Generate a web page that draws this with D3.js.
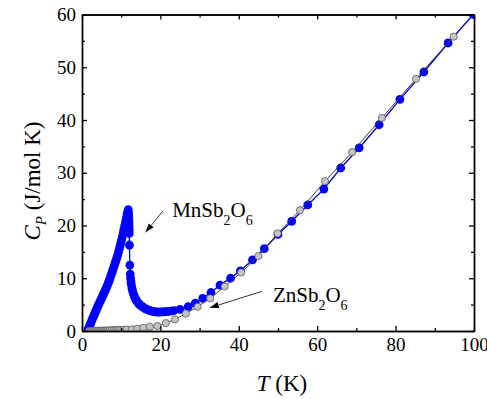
<!DOCTYPE html>
<html>
<head>
<meta charset="utf-8">
<script src="https://cdn.jsdelivr.net/npm/d3@7"></script>
<style>
body { margin: 0; background: #fff; }
svg text { font-family: "Liberation Serif", "Times New Roman", serif !important; fill: #000; }
</style>
</head>
<body>
<div id="main"></div>
<script>
// MnSb2O6 heat capacity (blue)
const mnT = [1.5, 1.7, 1.9, 2.1, 2.3, 2.5, 2.7, 2.9, 3.1, 3.3, 3.5, 3.7, 3.9, 4.1, 4.3, 4.5, 4.7, 4.9, 5.1, 5.3,
    5.5, 5.7, 5.9, 6.1, 6.3, 6.5, 6.7, 6.9, 7.1, 7.3, 7.5, 7.7, 7.9, 8.1, 8.3, 8.5, 8.7, 8.9, 9.1, 9.3,
    9.5, 9.7, 9.9, 10.1, 10.3, 10.5, 10.7, 10.9, 11.1, 11.3, 11.5, 11.65, 11.8,
    11.85, 11.9, 11.95, 12.0, 12.0, 12.05, 12.05, 12.1, 12.2,
    12.3, 12.4, 12.5, 12.6, 12.75, 12.9, 13.1, 13.3, 13.5, 13.7, 13.9, 14.15, 14.4, 14.7, 15.0, 15.3, 15.6, 16.0,
    16.4, 16.8, 17.2, 17.6, 18.0, 18.5, 19.0, 19.5, 20.0, 20.6, 21.2, 21.9, 22.6, 23.4,
    25.0, 27.1, 28.9, 30.8, 32.9, 35.2, 37.9, 40.4, 43.5, 46.5, 50.0, 53.5, 57.6, 61.7, 66.0, 70.7,
    75.8, 81.1, 87.2, 93.4, 99.8];
const mnC = [0.2, 0.55, 0.9, 1.25, 1.6, 2.0, 2.35, 2.7, 3.05, 3.4, 3.75, 4.1, 4.45, 4.8, 5.1, 5.45, 5.75, 6.05, 6.35, 6.7,
    7.0, 7.35, 7.65, 8.0, 8.35, 8.7, 9.1, 9.5, 9.9, 10.35, 10.8, 11.2, 11.65, 12.1, 12.55, 13.0, 13.45, 13.9, 14.4, 14.9,
    15.5, 16.1, 16.7, 17.3, 17.9, 18.6, 19.3, 20.0, 20.7, 21.4, 22.1, 22.6, 23.0,
    22.5, 21.9, 21.3, 20.6, 19.9, 19.2, 18.5, 16.3, 12.5,
    10.8, 10.0, 9.3, 8.7, 8.1, 7.6, 7.1, 6.65, 6.3, 6.0, 5.75, 5.5, 5.25, 5.0, 4.8, 4.65, 4.5, 4.3,
    4.15, 4.0, 3.9, 3.8, 3.72, 3.65, 3.6, 3.58, 3.6, 3.62, 3.65, 3.7, 3.78, 3.85,
    4.1, 4.6, 5.3, 6.2, 7.3, 8.7, 10.0, 11.4, 13.5, 15.6, 18.3, 20.8, 23.9, 26.9, 30.9, 34.7,
    39.1, 43.9, 49.1, 54.6, 60.0];

// ZnSb2O6 heat capacity (grey)
const znT = [1.8, 2.2, 2.6, 3.0, 3.4, 3.8, 4.2, 4.6, 5.0, 5.4, 5.8, 6.2, 6.6, 7.0, 7.5, 8.0, 8.5, 9.0, 9.5, 10.0,
    10.6, 11.4, 12.7, 14.1, 15.6, 17.3, 19.2, 21.4, 23.7, 26.5, 29.5, 32.7, 36.4, 40.6, 45.0, 49.9,
    55.6, 62.0, 68.9, 76.5, 85.2, 94.8];
const znC = [0.01, 0.01, 0.02, 0.02, 0.03, 0.03, 0.04, 0.05, 0.06, 0.07, 0.08, 0.09, 0.1, 0.11, 0.13, 0.15, 0.17, 0.19, 0.21, 0.23,
    0.24, 0.27, 0.32, 0.45, 0.6, 0.8, 0.95, 1.5, 2.2, 3.3, 4.6, 6.2, 8.45, 11.1, 14.2, 18.5,
    22.9, 28.4, 33.9, 40.4, 47.8, 55.8];

const xTicks = [0, 20, 40, 60, 80, 100];
const xMinor = [10, 30, 50, 70, 90];
const yTicks = [0, 10, 20, 30, 40, 50, 60];
const yMinor = [5, 15, 25, 35, 45, 55];

const serif = '"Liberation Serif", "Times New Roman", serif';
const width = 487, height = 399;
const margin = {top: 14.5, right: 13, bottom: 68, left: 82};

const svg = d3.select("#main").append("svg")
    .attr("width", width)
    .attr("height", height);

const x = d3.scaleLinear().domain([0, 100]).range([margin.left, width - margin.right]);
const y = d3.scaleLinear().domain([0, 60]).range([height - margin.bottom, margin.top]);

svg.append("clipPath").attr("id", "clip")
    .append("rect")
    .attr("x", x(0)).attr("y", y(60))
    .attr("width", x(100) - x(0)).attr("height", y(0) - y(60));

const plot = svg.append("g").attr("clip-path", "url(#clip)");

const mn = mnT.map((t, i) => [t, mnC[i]]);
const zn = znT.map((t, i) => [t, znC[i]]);

const line = d3.line().x(d => x(d[0])).y(d => y(d[1]));

// blue series
plot.append("path")
    .attr("d", line(mn))
    .attr("fill", "none")
    .attr("stroke", "#0000c8")
    .attr("stroke-width", 1.3);

plot.selectAll(".mn")
    .data(mn)
    .enter().append("circle")
    .attr("cx", d => x(d[0]))
    .attr("cy", d => y(d[1]))
    .attr("r", 4.4)
    .attr("fill", "#0000ff");

// grey series
plot.append("path")
    .attr("d", line(zn))
    .attr("fill", "none")
    .attr("stroke", "#404040")
    .attr("stroke-width", 1);

plot.selectAll(".zn")
    .data(zn)
    .enter().append("circle")
    .attr("cx", d => x(d[0]))
    .attr("cy", d => y(d[1]))
    .attr("r", 3.6)
    .attr("fill", "#c4c4c4")
    .attr("stroke", "#4a4a4a")
    .attr("stroke-width", 0.7);

// axes, ticks pointing inwards on all four sides
function styleAxis(g) {
    g.attr("font-family", serif);
    g.selectAll("path, line").attr("stroke", "#000").attr("stroke-width", 1.3);
    g.selectAll("text").style("font-size", "19px").style("font-family", serif).attr("fill", "#000");
}

svg.append("g")
    .attr("transform", "translate(0," + y(0) + ")")
    .call(d3.axisBottom(x).tickValues(xTicks).tickSize(-5).tickSizeOuter(0).tickPadding(7).tickFormat(d3.format("d")))
    .call(styleAxis);

svg.append("g")
    .attr("transform", "translate(0," + y(0) + ")")
    .call(d3.axisBottom(x).tickValues(xMinor).tickSize(-3).tickSizeOuter(0).tickFormat(""))
    .call(styleAxis);

svg.append("g")
    .attr("transform", "translate(0," + y(60) + ")")
    .call(d3.axisTop(x).tickValues(xTicks).tickSize(-5).tickSizeOuter(0).tickFormat(""))
    .call(styleAxis);

svg.append("g")
    .attr("transform", "translate(0," + y(60) + ")")
    .call(d3.axisTop(x).tickValues(xMinor).tickSize(-3).tickSizeOuter(0).tickFormat(""))
    .call(styleAxis);

svg.append("g")
    .attr("transform", "translate(" + x(0) + ",0)")
    .call(d3.axisLeft(y).tickValues(yTicks).tickSize(-5).tickSizeOuter(0).tickPadding(6).tickFormat(d3.format("d")))
    .call(styleAxis);

svg.append("g")
    .attr("transform", "translate(" + x(0) + ",0)")
    .call(d3.axisLeft(y).tickValues(yMinor).tickSize(-3).tickSizeOuter(0).tickFormat(""))
    .call(styleAxis);

svg.append("g")
    .attr("transform", "translate(" + x(100) + ",0)")
    .call(d3.axisRight(y).tickValues(yTicks).tickSize(-5).tickSizeOuter(0).tickFormat(""))
    .call(styleAxis);

svg.append("g")
    .attr("transform", "translate(" + x(100) + ",0)")
    .call(d3.axisRight(y).tickValues(yMinor).tickSize(-3).tickSizeOuter(0).tickFormat(""))
    .call(styleAxis);

svg.selectAll(".domain").attr("stroke-width", 1.4);

// axis labels
svg.append("text")
    .attr("transform", "translate(" + (x(50) + 4) + "," + 391 + ")")
    .attr("text-anchor", "middle")
    .style("font-family", serif)
    .style("font-size", "23px")
    .call(t => {
        t.append("tspan").attr("font-style", "italic").text("T");
        t.append("tspan").text(" (K)");
    });

svg.append("text")
    .attr("transform", "translate(40," + 181 + ")rotate(-90)")
    .attr("text-anchor", "middle")
    .style("font-family", serif)
    .style("font-size", "23px")
    .call(t => {
        t.append("tspan").attr("font-style", "italic").text("C");
        t.append("tspan").attr("font-style", "italic").attr("dy", 6).style("font-size", "15px").text("P");
        t.append("tspan").attr("dy", -6).text(" (J/mol K)");
    });

// annotations
svg.append("defs").append("marker")
    .attr("id", "arrow")
    .attr("viewBox", "0 0 10 10")
    .attr("refX", 10).attr("refY", 5)
    .attr("markerWidth", 9).attr("markerHeight", 9)
    .attr("markerUnits", "userSpaceOnUse")
    .attr("orient", "auto")
    .append("path")
    .attr("d", "M0,1.5L10,5L0,8.5Z")
    .attr("fill", "#000");

function formula(tx, ty, parts) {
    const t = svg.append("text")
        .attr("x", x(tx)).attr("y", y(ty))
        .style("font-family", serif)
        .style("font-size", "21px");
    parts.forEach(p => {
        if (p.sub) t.append("tspan").attr("dy", 8).style("font-size", "14px").text(p.s);
        else t.append("tspan").attr("dy", p.up ? -8 : 0).text(p.s);
    });
}

formula(23.0, 21.6, [{s: "MnSb"}, {s: "2", sub: true}, {s: "O", up: true}, {s: "6", sub: true}]);
formula(48.7, 5.5, [{s: "ZnSb"}, {s: "2", sub: true}, {s: "O", up: true}, {s: "6", sub: true}]);

svg.append("line")
    .attr("x1", x(20.7)).attr("y1", y(22.8))
    .attr("x2", x(16.2)).attr("y2", y(18.7))
    .attr("stroke", "#000").attr("stroke-width", 0.8)
    .attr("marker-end", "url(#arrow)");

svg.append("line")
    .attr("x1", x(45.8)).attr("y1", y(7.5))
    .attr("x2", x(32.6)).attr("y2", y(4.4))
    .attr("stroke", "#000").attr("stroke-width", 0.8)
    .attr("marker-end", "url(#arrow)");
</script>
</body>
</html>
